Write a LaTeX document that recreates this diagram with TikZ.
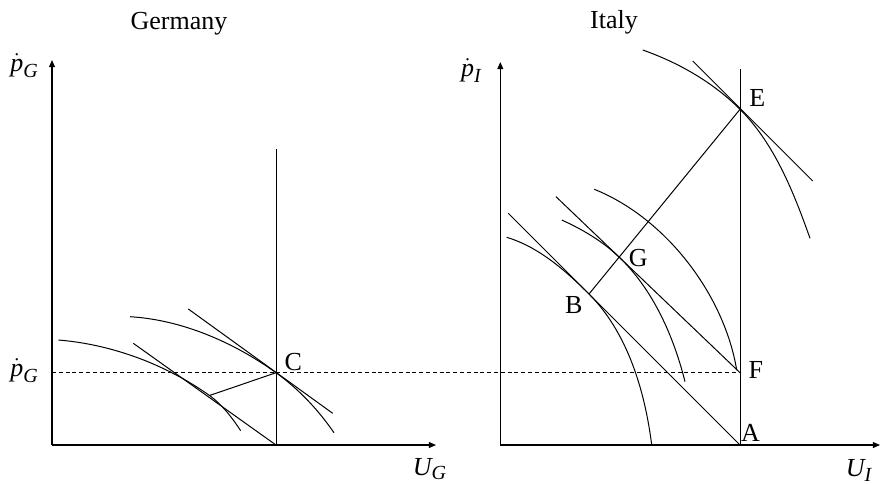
\documentclass[tikz,border=0pt]{standalone}
\usepackage{amsmath}
\usepackage{fontspec}
\setmainfont{Liberation Serif}
\usetikzlibrary{arrows.meta}
\newcommand{\vi}[1]{\text{\itshape #1}}
\newcommand{\vsub}[1]{\text{\fontsize{10}{12}\selectfont\itshape #1}}

\begin{document}
\begin{tikzpicture}[
  x=0.5pt, y=-0.5pt,
  axis/.style={-{Triangle[length=3.6pt,width=3pt]}, line width=0.6pt},
  ln/.style={line width=0.5pt},
  crv/.style={line width=0.5pt},
  guide/.style={line width=0.5pt, dash pattern=on 2pt off 1.4pt},
  lbl/.style={inner sep=0pt, anchor=base, font=\fontsize{13}{15}\selectfont}
]
  \useasboundingbox (0,0) rectangle (881,483);

  % Germany
  \coordinate (oG) at (52,445);
  \coordinate (yG) at (52,60);
  \coordinate (xG) at (436,445);
  \coordinate (C) at (276,372.7);
  \coordinate (topG) at (276,149);
  \coordinate (footG) at (276,446);
  \coordinate (tG) at (209.5,395.5);

  \node[lbl] (ttlG) at (179,29.3) {Germany};
  \node[lbl] (pG) at (24.5,71) {$\dot{\vi{p}}_{\vsub{G}}$};
  \node[lbl] (pGbar) at (24.5,376) {$\dot{\vi{p}}_{\vsub{G}}$};
  \node[lbl] (uG) at (430,475) {$\vi{U}_{\vsub{G}}$};
  \node[lbl] (labC) at (293.3,370) {C};

  \draw[axis] (oG) -- (yG);
  \draw[axis] (oG) -- (xG);
  \draw[ln] (topG) -- (footG);
  \draw[ln] (188.3,309) -- (332.7,413.3);
  \draw[ln] (133.3,343.3) -- (276,445);
  \draw[ln] (C) -- (tG);
  \draw[crv] (130,316.7) .. controls (182,319.8) and (233.7,342.3) .. (C)
             .. controls (298.6,388.9) and (318.2,409.8) .. (334,432.7);
  \draw[crv] (58.3,340) .. controls (111.8,344.3) and (165.7,364.4) .. (tG)
             .. controls (222.3,404.6) and (232,417.6) .. (240.7,430.7);

  % Italy
  \coordinate (oI) at (500.3,445);
  \coordinate (yI) at (500.3,62);
  \coordinate (xI) at (880,445);
  \coordinate (topI) at (740,69);
  \coordinate (A) at (740,445);
  \coordinate (F) at (740,372.7);
  \coordinate (E) at (740,109.3);
  \coordinate (B) at (589,294);
  \coordinate (G) at (619,257);

  \node[lbl] (ttlI) at (614,28.5) {Italy};
  \node[lbl] (pI) at (471.5,76) {$\dot{\vi{p}}_{\vsub{I}}$};
  \node[lbl] (uI) at (859,476.7) {$\vi{U}_{\vsub{I}}$};
  \node[lbl] (labE) at (757.3,106) {E};
  \node[lbl] (labF) at (755.8,378.3) {F};
  \node[lbl] (labA) at (750.5,441.7) {A};
  \node[lbl] (labB) at (573.8,313.3) {B};
  \node[lbl] (labG) at (638.3,266) {G};

  \draw[axis] (oI) -- (yI);
  \draw[axis] (oI) -- (xI);
  \draw[ln] (topI) -- (A);
  \draw[ln] (508.3,213.3) -- (A);
  \draw[ln] (556,196.7) -- (F);
  \draw[ln] (B) -- (E);
  \draw[ln] (692.7,61) -- (812.7,181);
  \draw[crv] (506.7,237.3) .. controls (538.6,246.9) and (565.5,270.5) .. (B)
             .. controls (627.5,332.5) and (644.9,390.9) .. (651.7,445);
  \draw[crv] (561.7,220) .. controls (582.4,229.3) and (602.6,241.3) .. (G)
             .. controls (653,289.5) and (673.6,336.1) .. (685,381.7);
  \draw[crv] (594.3,189.3) .. controls (665.5,217.8) and (724.1,294.3) .. (736.7,370);
  \draw[crv] (642.7,50) .. controls (678.6,62.6) and (713.1,82.4) .. (E)
             .. controls (774.6,143.9) and (793.6,192.2) .. (810,238.3);

  % common level
  \draw[guide] (oG |- C) -- (F);
\end{tikzpicture}
\end{document}
